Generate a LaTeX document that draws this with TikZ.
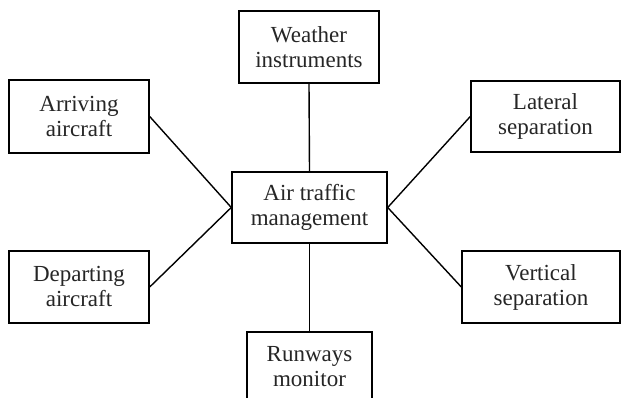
\documentclass[tikz,border=0pt]{standalone}
\usepackage{fontspec}
\setmainfont{Liberation Serif}
\begin{document}
\begin{tikzpicture}[x=1pt,y=1pt,
  box/.style={draw=black, line width=1.4pt, inner sep=0pt, align=center,
    font=\fontsize{23}{25}\selectfont, text=black!85},
  link/.style={draw=black, line width=1.4pt}]
\clip (0,0) rectangle (621,398);
\fill[white] (0,0) rectangle (621,398);
% image y -> 398 - y
\node[box, minimum width=155pt, minimum height=71pt] (atm) at (309.5,190.5) {Air traffic\\management};
\node[box, minimum width=140pt, minimum height=72pt] (wx) at (309,351) {Weather\\instruments};
\node[box, minimum width=140pt, minimum height=73pt] (arr) at (79,281.5) {Arriving\\aircraft};
\node[box, minimum width=140pt, minimum height=72pt] (dep) at (79,111) {Departing\\aircraft};
\node[box, minimum width=149pt, minimum height=71pt] (lat) at (545.5,281.5) {Lateral\\separation};
\node[box, minimum width=158pt, minimum height=72pt] (ver) at (541,111) {Vertical\\separation};
\node[box, minimum width=125pt, minimum height=70pt] (rwy) at (309.5,31) {Runways\\monitor};
\draw[link] (wx.south) -- (atm.north);
\draw[link] (rwy.north) -- (atm.south);
\draw[link] (arr.east) -- (atm.west);
\draw[link] (dep.east) -- (atm.west);
\draw[link] (lat.west) -- (atm.east);
\draw[link] (ver.west) -- (atm.east);
\end{tikzpicture}
\end{document}
